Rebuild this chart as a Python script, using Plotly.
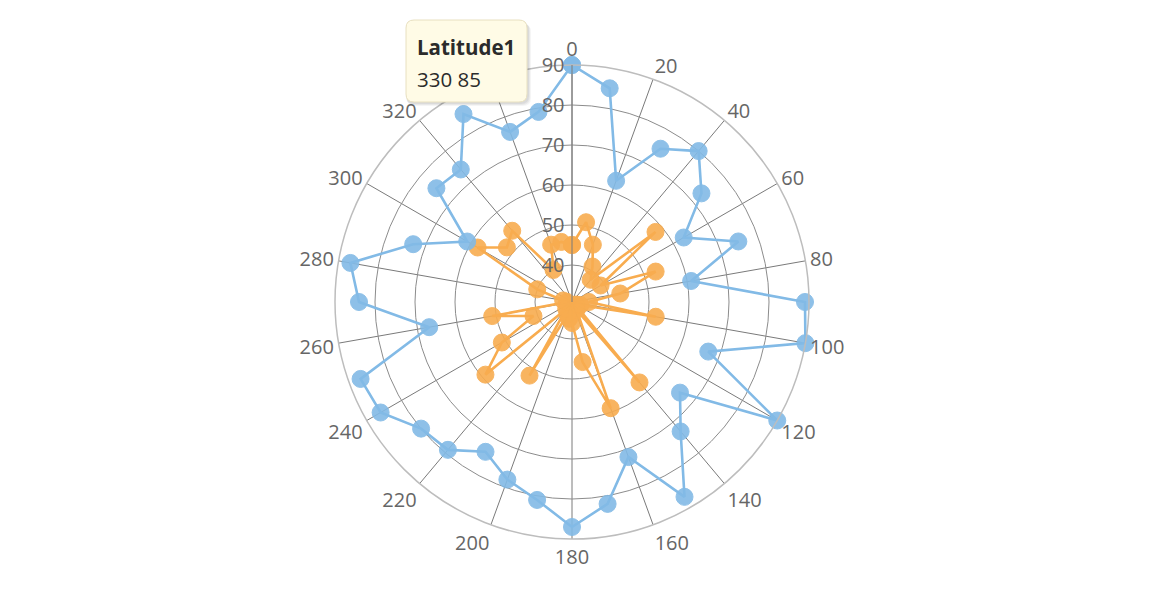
import plotly.graph_objects as go

# Data (angle in degrees, clockwise from north; radial values)
angles = [0, 10, 20, 30, 40, 50, 60, 70, 80, 90, 100, 110, 120, 130, 140, 150, 160, 170,
          180, 190, 200, 210, 220, 230, 240, 250, 260, 270, 280, 290, 300, 310, 320, 330, 340, 350]
latitude1 = [90, 85, 63, 75, 80, 73, 63, 75, 61, 89, 90, 67, 90, 66, 73, 87, 72, 82,
             87, 81, 78, 74, 79, 80, 86, 87, 67, 84, 87, 73, 61, 75, 74, 85, 76, 79]
latitude2 = [45, 51, 46, 41, 38, 58, 39, 53, 43, 35, 52, 33, 32, 32, 57, 33, 59, 46,
             36, 35, 34, 52, 33, 59, 51, 41, 51, 32, 33, 40, 58, 52, 54, 40, 46, 46]
angular_ticks = [0, 20, 40, 60, 80, 100, 120, 140, 160, 180, 200, 220, 240, 260, 280, 300, 320, 340]
radial_ticks = [40, 50, 60, 70, 80, 90]
tooltip_series = "Latitude1"
tooltip_text = "330 85"

blue = "#82bae6"
orange = "#f8ac4f"
W, H = 1170, 600
OFF = 8  # page body margin

fig = go.Figure()
for name, vals, col in [("Latitude2", latitude2, orange), ("Latitude1", latitude1, blue)]:
    fig.add_trace(go.Scatterpolar(
        r=vals + vals[:1],
        theta=angles + angles[:1],
        name=name,
        mode="lines+markers",
        line=dict(color=col, width=2.6),
        marker=dict(size=17, color=col, opacity=0.9, line=dict(color=col, width=1)),
    ))

font_family = "Open Sans, Noto Sans, sans-serif"

cx, cy, R = 572 - OFF, 302 - OFF, 237
dom_x = [(cx - R) / W, (cx + R) / W]
dom_y = [(H - cy - R) / H, (H - cy + R) / H]


def px(x):
    return (x - OFF) / W


def py(y):
    return 1 - (y - OFF) / H


def rounded_rect(x0, y0, x1, y1, r):
    pts = [
        f"M {px(x0 + r)},{py(y0)}",
        f"L {px(x1 - r)},{py(y0)}",
        f"Q {px(x1)},{py(y0)} {px(x1)},{py(y0 + r)}",
        f"L {px(x1)},{py(y1 - r)}",
        f"Q {px(x1)},{py(y1)} {px(x1 - r)},{py(y1)}",
        f"L {px(x0 + r)},{py(y1)}",
        f"Q {px(x0)},{py(y1)} {px(x0)},{py(y1 - r)}",
        f"L {px(x0)},{py(y0 + r)}",
        f"Q {px(x0)},{py(y0)} {px(x0 + r)},{py(y0)}",
        "Z",
    ]
    return " ".join(pts)


shapes = []
for d, a in [(4, 0.04), (3, 0.05), (2, 0.06)]:
    shapes.append(dict(type="path", xref="paper", yref="paper",
                       path=rounded_rect(406 - 1 + d / 2, 20 + d, 527 + d, 102 + d, 8),
                       fillcolor=f"rgba(0,0,0,{a})", line=dict(width=0), layer="above"))
shapes.append(dict(type="path", xref="paper", yref="paper",
                   path=rounded_rect(406, 20, 527, 102, 8),
                   fillcolor="#fffbe6", line=dict(color="#e8e0c0", width=1), layer="above"))

fig.update_layout(
    width=W, height=H,
    margin=dict(l=0, r=0, t=0, b=0),
    paper_bgcolor="white",
    showlegend=False,
    font=dict(family=font_family, color="#666666", size=18),
    polar=dict(
        domain=dict(x=dom_x, y=dom_y),
        bgcolor="white",
        radialaxis=dict(
            range=[30.75, 90],
            tickmode="array",
            tickvals=radial_ticks,
            ticktext=[str(v) for v in radial_ticks],
            angle=90,
            tickangle=90,
            side="counterclockwise",
            showline=True,
            linecolor="#7a7a7a",
            linewidth=1,
            gridcolor="#8c8c8c",
            gridwidth=1,
            ticks="",
            tickfont=dict(size=20, color="#666666", family=font_family),
        ),
        angularaxis=dict(
            rotation=90,
            direction="clockwise",
            tickmode="array",
            tickvals=angular_ticks,
            ticktext=[str(v) for v in angular_ticks],
            showgrid=True,
            gridcolor="#7a7a7a",
            gridwidth=1,
            showline=True,
            linecolor="#bdbdbd",
            linewidth=1.5,
            ticks="",
            tickfont=dict(size=20, color="#666666", family=font_family),
        ),
    ),
    shapes=shapes,
    annotations=[
        dict(xref="paper", yref="paper", x=px(415), y=py(47),
             xanchor="left", yanchor="middle", showarrow=False,
             text=f"<b>{tooltip_series}</b>",
             font=dict(size=20.5, color="#2b2b2b", family=font_family)),
        dict(xref="paper", yref="paper", x=px(415), y=py(79),
             xanchor="left", yanchor="middle", showarrow=False,
             text=tooltip_text,
             font=dict(size=20.5, color="#2b2b2b", family=font_family)),
    ],
)

fig.write_html("out.html")
